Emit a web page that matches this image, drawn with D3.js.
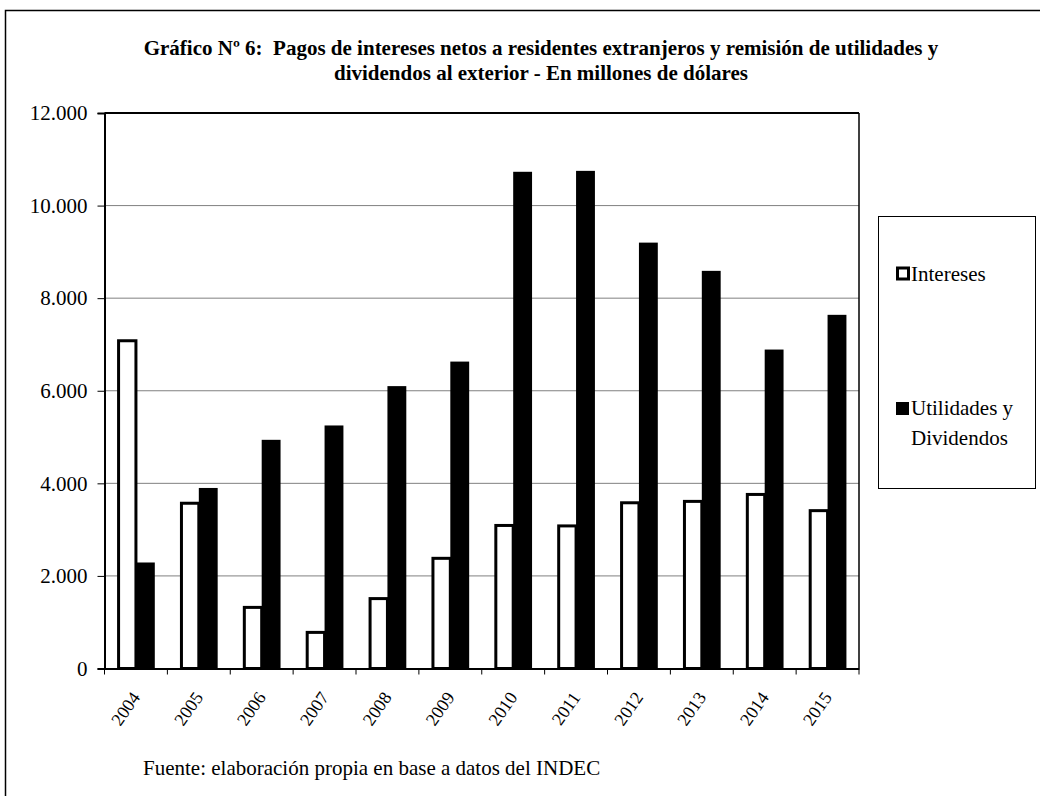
<!DOCTYPE html>
<html><head><meta charset="utf-8">
<script src="https://cdn.jsdelivr.net/npm/d3@7"></script>
<style>
html,body{margin:0;padding:0;background:#fff;}
text{font-family:"Liberation Serif","Times New Roman",serif;fill:#000;}
.title{white-space:pre;}
</style></head>
<body><svg id="c" width="1040" height="796"></svg>
<script>
const years = ["2004","2005","2006","2007","2008","2009","2010","2011","2012","2013","2014","2015"];
const intereses = [7080,3570,1320,780,1510,2380,3090,3080,3580,3610,3760,3410];
const utilidades = [2290,3900,4940,5250,6100,6630,10730,10750,9200,8590,6890,7640];
const seriesNames = ["Intereses","Utilidades y Dividendos"];
const yTicks = [0,2000,4000,6000,8000,10000,12000];
const titleLines = ["Gráfico Nº 6:  Pagos de intereses netos a residentes extranjeros y remisión de utilidades y","dividendos al exterior - En millones de dólares"];
const source = "Fuente: elaboración propia en base a datos del INDEC";

const svg = d3.select("#c");
const L = 104.5, R = 859, T = 113, B = 668.5;
const FS = 21;

// outer frame
svg.append("rect").attr("x",5.5).attr("y",10.5).attr("width",1040).attr("height",800)
  .attr("fill","#fff").attr("stroke","#000").attr("stroke-width",1.5);

// title
svg.selectAll("text.title").data(titleLines).enter().append("text")
  .attr("class","title").attr("x",541).attr("y",(d,i)=>55+i*25)
  .attr("text-anchor","middle").attr("font-size",FS).attr("font-weight","bold").text(d=>d);

const x = d3.scaleBand().domain(years).range([L,R]).paddingInner(0).paddingOuter(0);
const x1 = d3.scaleBand().domain([0,1]).range([x.bandwidth()*0.2, x.bandwidth()*0.8]);
const y = d3.scaleLinear().domain([0,12000]).range([B,T]);

// gridlines
svg.append("g").selectAll("line").data(yTicks.filter(d=>d>0 && d<12000)).enter().append("line")
  .attr("x1",L).attr("x2",R).attr("y1",d=>y(d)).attr("y2",d=>y(d))
  .attr("stroke","#808080").attr("stroke-width",1);

// bars
const g = svg.append("g");
years.forEach((yr,i)=>{
  g.append("rect").attr("x",x(yr)+x1(1)).attr("width",x1.bandwidth())
    .attr("y",y(utilidades[i])).attr("height",B-y(utilidades[i])).attr("fill","#000");
  g.append("rect").attr("x",x(yr)+x1(0)+1.5).attr("width",x1.bandwidth()-1.5)
    .attr("y",y(intereses[i])).attr("height",B-y(intereses[i]))
    .attr("fill","#fff").attr("stroke","#000").attr("stroke-width",3);
});

// plot border top/right
svg.append("line").attr("x1",L).attr("x2",R).attr("y1",T).attr("y2",T).attr("stroke","#000").attr("stroke-width",2);
svg.append("line").attr("x1",R).attr("x2",R).attr("y1",T).attr("y2",B).attr("stroke","#000").attr("stroke-width",1.5);

// y axis
const yAxis = svg.append("g").attr("transform",`translate(${L},0)`)
  .call(d3.axisLeft(y).tickValues(yTicks).tickSize(7).tickPadding(10)
    .tickFormat(d=>d3.format(",")(d).replace(/,/g,".")));
yAxis.select(".domain").attr("stroke","#000").attr("stroke-width",2);
yAxis.selectAll(".tick line").attr("stroke","#000").attr("stroke-width",1);
yAxis.selectAll("text").attr("font-size",FS).attr("fill","#000");

// x axis
const xAxis = svg.append("g").attr("transform",`translate(0,${B})`)
  .call(d3.axisBottom(x).tickSize(0).tickSizeOuter(0));
xAxis.select(".domain").attr("stroke","#000").attr("stroke-width",2);
xAxis.selectAll(".tick text").attr("font-size",18).attr("fill","#000")
  .attr("text-anchor","end").attr("dy",null).attr("y",0)
  .attr("transform","translate(5,29) rotate(-55)");
// boundary ticks
svg.append("g").selectAll("line").data(d3.range(years.length+1)).enter().append("line")
  .attr("x1",i=>L+i*x.step()).attr("x2",i=>L+i*x.step()).attr("y1",B).attr("y2",B+6)
  .attr("stroke","#000").attr("stroke-width",1);

// legend
const lg = svg.append("g");
lg.append("rect").attr("x",878.5).attr("y",216.5).attr("width",157).attr("height",272)
  .attr("fill","#fff").attr("stroke","#000").attr("stroke-width",1);
lg.append("rect").attr("x",897.5).attr("y",268).attr("width",11).attr("height",11)
  .attr("fill","#fff").attr("stroke","#000").attr("stroke-width",3);
lg.append("text").attr("x",911).attr("y",281).attr("font-size",FS).text(seriesNames[0]);
lg.append("rect").attr("x",896).attr("y",402).attr("width",13).attr("height",13).attr("fill","#000");
lg.append("text").attr("x",911).attr("y",415).attr("font-size",FS).text("Utilidades y");
lg.append("text").attr("x",911).attr("y",445).attr("font-size",FS).text("Dividendos");

// source
svg.append("text").attr("x",143).attr("y",775).attr("font-size",FS).text(source);
</script></body></html>
